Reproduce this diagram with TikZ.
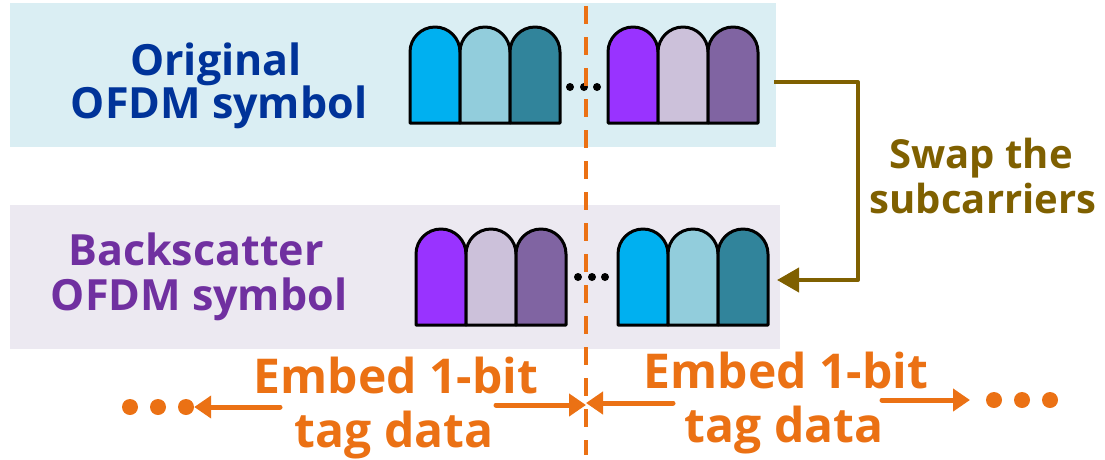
\documentclass[tikz,border=0pt]{standalone}
\usepackage{fontspec}
\setmainfont{Open Sans}
\usetikzlibrary{arrows.meta}
\definecolor{bandblue}{HTML}{DAEEF3}
\definecolor{bandlav}{HTML}{ECE9F1}
\definecolor{cA}{HTML}{00B0F0}
\definecolor{cB}{HTML}{92CDDC}
\definecolor{cC}{HTML}{31849B}
\definecolor{pA}{HTML}{9933FF}
\definecolor{pB}{HTML}{CCC1DA}
\definecolor{pC}{HTML}{8064A2}
\definecolor{txtblue}{HTML}{003399}
\definecolor{txtpurple}{HTML}{7030A0}
\definecolor{swapbrown}{HTML}{7F6000}
\definecolor{tagorange}{HTML}{EB7114}
\tikzset{
  lbl/.style={font=\bfseries\fontsize{43}{43}\selectfont, anchor=base, inner sep=0pt},
  swaptxt/.style={font=\bfseries\fontsize{40}{42}\selectfont, anchor=base, inner sep=0pt, text=swapbrown},
  tagtxt/.style={font=\bfseries\fontsize{48}{52}\selectfont, anchor=base, inner sep=0pt, text=tagorange},
  tagarrow/.style={draw=tagorange, line width=5pt, line cap=round, -{Triangle[length=17pt,width=22pt]}},
  orangedot/.style={circle, fill=tagorange, inner sep=0pt, minimum size=16pt},
  blackdot/.style={circle, fill=black, inner sep=0pt, minimum size=8pt},
}
% one arched subcarrier cell: lower-left corner, width 50, height 96
\newcommand{\archcell}[3]{%
  \draw[line width=3pt, fill=#3, line join=round]
    (#1,#2) -- (#1,#2-71) arc[start angle=180, end angle=360, radius=25] -- (#1+50,#2) -- cycle;}
\begin{document}
\begin{tikzpicture}[x=1pt,y=-1pt]
\useasboundingbox (0,0) rectangle (1105,459);
% background bands
\fill[bandblue] (10,3) rectangle (776,147);
\fill[bandlav] (10,205) rectangle (780,349);
% labels of the two symbols
\node[lbl, text=txtblue] (orig1) at (216,75) {Original};
\node[lbl, text=txtblue] (orig2) at (219,118) {OFDM symbol};
\node[lbl, text=txtpurple] (back1) at (196,265) {Backscatter};
\node[lbl, text=txtpurple] (back2) at (199,310) {OFDM symbol};
% original symbol subcarriers
\archcell{410}{123}{cA}
\archcell{460}{123}{cB}
\archcell{510}{123}{cC}
\archcell{608}{123}{pA}
\archcell{658}{123}{pB}
\archcell{708}{123}{pC}
\node[blackdot] (d1) at (570,87) {};
\node[blackdot] (d2) at (584,87) {};
\node[blackdot] (d3) at (597,87) {};
% backscatter symbol subcarriers
\archcell{416}{325}{pA}
\archcell{466}{325}{pB}
\archcell{516}{325}{pC}
\archcell{618}{325}{cA}
\archcell{668}{325}{cB}
\archcell{718}{325}{cC}
\node[blackdot] (e1) at (578,277) {};
\node[blackdot] (e2) at (592,277) {};
\node[blackdot] (e3) at (605,277) {};
% symbol boundary
\coordinate (top) at (586,6);
\coordinate (bot) at (586,455);
\draw[tagorange, line width=4.5pt, dash pattern=on 18pt off 13pt] (top) -- (bot);
% swap connector
\coordinate (s1) at (774,82);
\coordinate (s2) at (858,82);
\coordinate (s3) at (858,280);
\coordinate (s4) at (777,280);
\draw[swapbrown, line width=4pt, line join=round, -{Triangle[length=22pt,width=24pt]}]
  (s1) -- (s2) -- (s3) -- (s4);
\node[swaptxt] (swap1) at (981,168) {Swap the};
\node[swaptxt] (swap2) at (983,213) {subcarriers};
% tag data labels
\node[tagtxt] (tl1) at (396,393) {Embed 1-bit};
\node[tagtxt] (tl2) at (394,447) {tag data};
\node[tagtxt] (tr1) at (786,388) {Embed 1-bit};
\node[tagtxt] (tr2) at (784,442) {tag data};
% tag data arrows
\node[orangedot] (l1) at (130,407) {};
\node[orangedot] (l2) at (158,407) {};
\node[orangedot] (l3) at (186,407) {};
\node[orangedot] (r1) at (994,400) {};
\node[orangedot] (r2) at (1022,400) {};
\node[orangedot] (r3) at (1050,400) {};
\coordinate (la) at (280,407);
\coordinate (lb) at (496,405);
\coordinate (ra) at (673,403);
\coordinate (rb) at (882,400);
\coordinate (mid1) at (586,405);
\coordinate (mid2) at (586,403);
\coordinate (rtip) at (970,400);
\draw[tagarrow] (la) -- (l3.east);
\draw[tagarrow] (lb) -- (mid1);
\draw[tagarrow] (ra) -- (mid2);
\draw[tagarrow] (rb) -- (rtip);
\end{tikzpicture}
\end{document}
